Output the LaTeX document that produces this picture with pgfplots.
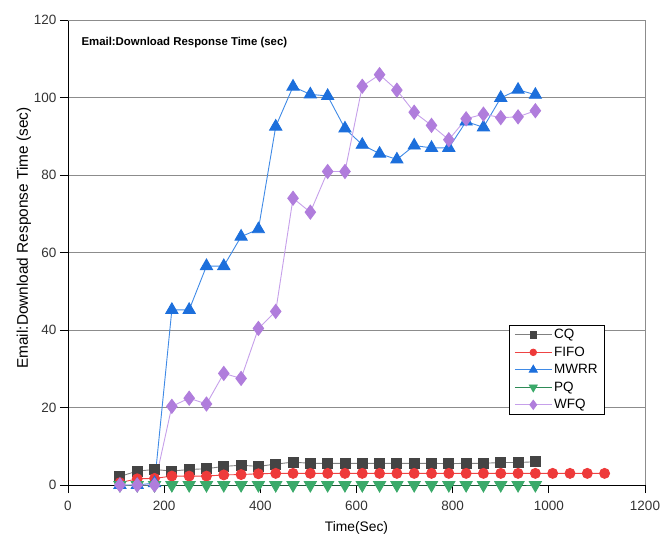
\documentclass[border=0pt]{standalone}
\usepackage{pgfplots}
\pgfplotsset{compat=1.18}
\usepackage{fontspec}
\setmainfont{Liberation Sans}
\definecolor{cqm}{HTML}{444444}
\definecolor{cql}{HTML}{808080}
\definecolor{fifom}{HTML}{EE3A3A}
\definecolor{fifol}{HTML}{EE4444}
\definecolor{mwrrm}{HTML}{1C6FDC}
\definecolor{mwrrl}{HTML}{3F8AE6}
\definecolor{pqm}{HTML}{3BAA6A}
\definecolor{pql}{HTML}{2E8B57}
\definecolor{wfqm}{HTML}{B07DDC}
\definecolor{wfql}{HTML}{C6A0EA}
\definecolor{gridc}{HTML}{8C8C8C}
\begin{document}
\begin{tikzpicture}
\begin{axis}[
  scale only axis,
  width=577pt, height=465pt,
  xmin=0, xmax=1200, ymin=0, ymax=120,
  xtick={0,200,...,1200}, ytick={0,20,...,120},
  tick align=outside, tick pos=left,
  major tick length=8pt,
  ymajorgrids, grid style={gridc, line width=0.8pt},
  axis line style={gridc, line width=0.8pt},
  every tick/.style={black, line width=0.8pt},
  separate axis lines,
  x axis line style={black},
  y axis line style={black},
  axis x line*=bottom, axis y line*=left,
  /pgf/number format/assume math mode=true,
  /pgf/number format/1000 sep={},
  ticklabel style={font=\fontsize{13.5}{15}\selectfont, text=black!80},
  xticklabel style={yshift=-5pt},
  yticklabel style={xshift=0pt},
  xlabel={Time(Sec)},
  ylabel={Email:Download Response Time (sec)},
  xlabel style={font=\fontsize{13.8}{15}\selectfont, at={([yshift=-46pt]rel axis cs:0.5,0)}, anchor=base},
  ylabel style={font=\fontsize{15.4}{17}\selectfont, at={([xshift=-40pt]rel axis cs:0,0.531)}, anchor=base},
  clip=false,
  legend style={at={(axis cs:1116,41.3)}, anchor=north east, draw=black, line width=0.8pt,
    font=\fontsize{13.5}{14}\selectfont, row sep=2.6pt, inner xsep=4.5pt, inner ysep=2pt,
    cells={anchor=west}},
  legend image code/.code={\draw[mark repeat=2,mark phase=2, every mark/.append style={scale=0.65}] plot coordinates {(0pt,0pt) (18.5pt,0pt) (37pt,0pt)};},
]
% frame top and right in gray
\draw[gridc, line width=0.8pt] (rel axis cs:0,1) -- (rel axis cs:1,1) -- (rel axis cs:1,0);
\addplot[cql, line width=0.9pt, mark=square*, mark size=5pt, mark options={fill=cqm, draw=cqm}] coordinates {
(108,2.2)(144,3.6)(180,4.0)(216,3.6)(252,4.0)(288,4.2)(324,4.8)(360,5.1)(396,4.8)(432,5.4)(468,5.9)(504,5.6)(540,5.6)(576,5.6)(612,5.6)(648,5.6)(684,5.6)(720,5.6)(756,5.6)(792,5.5)(828,5.6)(864,5.6)(900,5.8)(936,5.8)(972,6.0)};
\addlegendentry{CQ}
\addplot[fifol, line width=0.9pt, mark=*, mark size=5pt, mark options={fill=fifom, draw=fifom}] coordinates {
(108,0.6)(144,1.6)(180,1.7)(216,2.3)(252,2.3)(288,2.3)(324,2.6)(360,2.7)(396,2.9)(432,3.0)(468,3.0)(504,3.0)(540,3.0)(576,3.0)(612,3.0)(648,3.0)(684,3.0)(720,3.0)(756,3.0)(792,3.0)(828,3.0)(864,3.0)(900,3.0)(936,3.0)(972,3.0)(1008,3.0)(1044,3.0)(1080,3.0)(1116,3.0)};
\addlegendentry{FIFO}
\addplot[mwrrl, line width=0.9pt, mark=triangle*, mark size=7pt, mark options={fill=mwrrm, draw=mwrrm}] coordinates {
(108,0)(144,0)(180,0.5)(216,45.2)(252,45.2)(288,56.5)(324,56.5)(360,64.1)(396,66.0)(432,92.5)(468,102.8)(504,100.8)(540,100.4)(576,92.0)(612,87.8)(648,85.5)(684,84.0)(720,87.6)(756,87.0)(792,87.0)(828,93.8)(864,92.3)(900,99.9)(936,102.0)(972,100.7)};
\addlegendentry{MWRR}
\addplot[pql, line width=0.9pt, mark=triangle*, mark size=7pt, mark options={fill=pqm, draw=pqm, rotate=180}] coordinates {
(108,0)(144,0)(180,0)(216,0)(252,0)(288,0)(324,0)(360,0)(396,0)(432,0)(468,0)(504,0)(540,0)(576,0)(612,0)(648,0)(684,0)(720,0)(756,0)(792,0)(828,0)(864,0)(900,0)(936,0)(972,0)};
\addlegendentry{PQ}
\addplot[wfql, line width=0.9pt, mark=diamond*, mark size=7pt, mark options={fill=wfqm, draw=wfqm}] coordinates {
(108,0)(144,0)(180,0)(216,20.3)(252,22.4)(288,20.9)(324,28.8)(360,27.5)(396,40.4)(432,44.8)(468,74.0)(504,70.4)(540,80.9)(576,80.9)(612,102.9)(648,105.9)(684,101.9)(720,96.2)(756,92.8)(792,89.1)(828,94.5)(864,95.7)(900,94.8)(936,95.0)(972,96.6)};
\addlegendentry{WFQ}
\node[anchor=north west, font=\bfseries\fontsize{11.4}{13}\selectfont] at ([xshift=10pt,yshift=-14pt]rel axis cs:0,1) {Email:Download Response Time (sec)};
\coordinate (bbbl) at ([xshift=-68pt,yshift=-51pt]rel axis cs:0,0);
\coordinate (bbtr) at ([xshift=17pt,yshift=20pt]rel axis cs:1,1);
\end{axis}
\pgfresetboundingbox
\path[use as bounding box] (bbbl) rectangle (bbtr);
\end{tikzpicture}
\end{document}
